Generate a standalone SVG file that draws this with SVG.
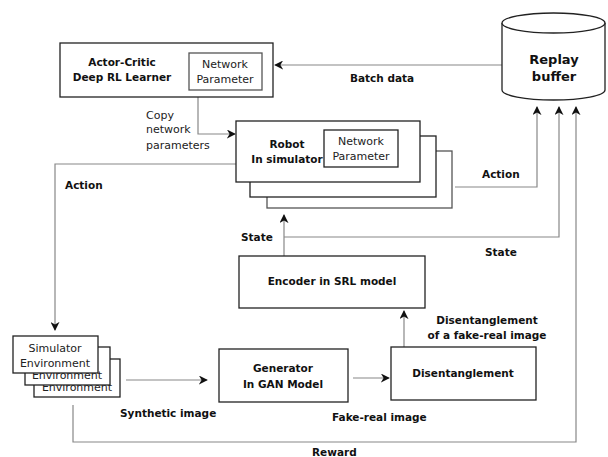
<svg xmlns="http://www.w3.org/2000/svg" width="608" height="457" viewBox="0 0 608 457">
<defs>
<marker id="ah" viewBox="0 0 10 10" refX="9" refY="5" markerWidth="9" markerHeight="9" markerUnits="userSpaceOnUse" orient="auto">
<path d="M0,0 L10,5 L0,10 L3,5 Z" fill="#111"/>
</marker>
</defs>
<style>
.box{fill:#fff;stroke:#222;stroke-width:1.3}
.box2{fill:#fff;stroke:#555;stroke-width:1.3}
.ln{fill:none;stroke:#888;stroke-width:1.2}
.b{font-family:"DejaVu Sans",Verdana,sans-serif;font-weight:bold;font-size:10.5px;fill:#111}
.n{font-family:"DejaVu Sans",Verdana,sans-serif;font-size:11px;fill:#222}
.c{text-anchor:middle}
</style>
<rect width="608" height="457" fill="#fff"/>

<g id="connectors">
<path class="ln" d="M502,65 H275" marker-end="url(#ah)"/>
<path class="ln" d="M198,97 V134 H235" marker-end="url(#ah)"/>
<path class="ln" d="M236,164 H55 V330" marker-end="url(#ah)"/>
<path class="ln" d="M455,187 H537 V107" marker-end="url(#ah)"/>
<path class="ln" d="M284,256 V215" marker-end="url(#ah)"/>
<path class="ln" d="M284,237 H559 V107" marker-end="url(#ah)"/>
<path class="ln" d="M73,405 V442 H576 V107" marker-end="url(#ah)"/>
<path class="ln" d="M126,380 H207" marker-end="url(#ah)"/>
<path class="ln" d="M353,378 H389" marker-end="url(#ah)"/>
<path class="ln" d="M404,347 V311" marker-end="url(#ah)"/>
</g>

<g id="labels">
<text class="n" x="146" y="119">Copy</text>
<text class="n" x="146" y="133">network</text>
<text class="n" x="146" y="149">parameters</text>
<text class="b" x="65" y="189">Action</text>
<text class="b" x="350" y="82">Batch data</text>
<text class="b" x="482" y="178">Action</text>
<text class="b" x="241" y="241">State</text>
<text class="b" x="485" y="256">State</text>
<text class="b c" x="487" y="324">Disentanglement</text>
<text class="b c" x="487" y="339">of a fake-real image</text>
<text class="b" x="120" y="417">Synthetic image</text>
<text class="b" x="332" y="421">Fake-real image</text>
<text class="b" x="312" y="456">Reward</text>
</g>

<g id="actor-critic">
<rect class="box" x="60" y="43" width="213" height="54"/>
<text class="b c" x="122" y="66">Actor-Critic</text>
<text class="b c" x="122" y="81">Deep RL Learner</text>
<rect class="box2" x="189" y="53" width="73" height="37"/>
<text class="n c" x="225" y="68">Network</text>
<text class="n c" x="225" y="83">Parameter</text>
</g>

<g id="replay-buffer">
<path class="box" d="M502,23 V90 A51.5,10 0 0 0 605,90 V23"/>
<ellipse class="box" cx="553.5" cy="23" rx="51.5" ry="10"/>
<text class="b c" x="554" y="64" style="font-size:13px">Replay</text>
<text class="b c" x="554" y="81" style="font-size:13px">buffer</text>
</g>

<g id="robot">
<rect class="box2" x="267" y="151" width="185" height="57"/>
<rect class="box" x="250" y="136" width="186" height="61"/>
<rect class="box" x="236" y="121" width="184" height="61"/>
<text class="b c" x="287" y="148">Robot</text>
<text class="b c" x="287" y="163">In simulator</text>
<rect class="box" x="324" y="130" width="74" height="37"/>
<text class="n c" x="361" y="145">Network</text>
<text class="n c" x="361" y="160">Parameter</text>
</g>

<g id="encoder">
<rect class="box" x="239" y="256" width="186" height="52"/>
<text class="b c" x="332" y="285">Encoder in SRL model</text>
</g>

<g id="generator">
<rect class="box" x="219" y="349" width="129" height="53"/>
<text class="b c" x="283" y="372">Generator</text>
<text class="b c" x="283" y="388">In GAN Model</text>
</g>

<g id="disentanglement">
<rect class="box" x="391" y="347" width="145" height="53"/>
<text class="b c" x="463" y="377">Disentanglement</text>
</g>

<g id="simulator-environment">
<rect class="box" x="34" y="359" width="86" height="38"/>
<text class="n c" x="77" y="391">Environment</text>
<rect class="box" x="25" y="347" width="85" height="38"/>
<text class="n c" x="67" y="379">Environment</text>
<rect class="box" x="13" y="336" width="85" height="37"/>
<text class="n c" x="55" y="352">Simulator</text>
<text class="n c" x="55" y="367">Environment</text>
</g>
</svg>
